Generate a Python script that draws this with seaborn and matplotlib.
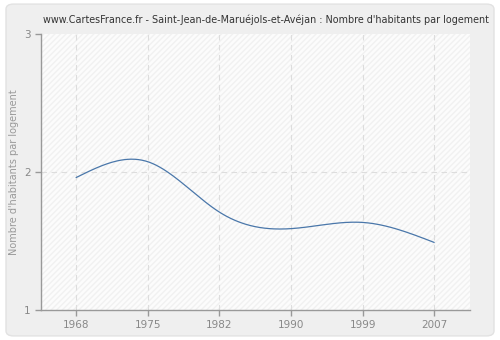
import numpy as np
import pandas as pd
import matplotlib
matplotlib.use("Agg")
import matplotlib.pyplot as plt
from matplotlib.patches import FancyBboxPatch, Rectangle
import seaborn as sns

years = ["1968", "1975", "1982", "1990", "1999", "2007"]
values = [1.96, 2.075, 1.71, 1.59, 1.635, 1.49]
title = "www.CartesFrance.fr - Saint-Jean-de-Maruéjols-et-Avéjan : Nombre d'habitants par logement"
ylabel = "Nombre d'habitants par logement"


def natural_spline(x, y, xs):
    x = np.asarray(x, float); y = np.asarray(y, float)
    n = len(x)
    h = np.diff(x)
    A = np.zeros((n, n)); r = np.zeros(n)
    A[0, 0] = A[-1, -1] = 1
    for i in range(1, n - 1):
        A[i, i - 1] = h[i - 1]; A[i, i] = 2 * (h[i - 1] + h[i]); A[i, i + 1] = h[i]
        r[i] = 3 * ((y[i + 1] - y[i]) / h[i] - (y[i] - y[i - 1]) / h[i - 1])
    c = np.linalg.solve(A, r)
    b = np.zeros(n - 1); d = np.zeros(n - 1)
    for i in range(n - 1):
        b[i] = (y[i + 1] - y[i]) / h[i] - h[i] * (2 * c[i] + c[i + 1]) / 3
        d[i] = (c[i + 1] - c[i]) / (3 * h[i])
    idx = np.clip(np.searchsorted(x, xs) - 1, 0, n - 2)
    dx = xs - x[idx]
    return y[idx] + b[idx] * dx + c[idx] * dx ** 2 + d[idx] * dx ** 3


pos = np.arange(len(years))
xs = np.linspace(0, len(years) - 1, 300)
ys = natural_spline(pos, values, xs)
df = pd.DataFrame({"x": xs, "y": ys})

sns.set_style("white")
plt.rcParams['font.family'] = ['DejaVu Sans']

fig = plt.figure(figsize=(5, 3.4), dpi=100)
fig.patch.set_facecolor("white")
bg = FancyBboxPatch((0.012, 0.012), 0.976, 0.976, boxstyle="round,pad=0,rounding_size=0.015",
                    transform=fig.transFigure, facecolor="#efefef", edgecolor="#e2e2e2",
                    linewidth=1, zorder=-10)
fig.patches.append(bg)

ax = fig.add_axes([0.082, 0.088, 0.858, 0.812])
ax.set_facecolor("#fcfcfc")
ax.add_patch(Rectangle((0, 0), 1, 1, transform=ax.transAxes, facecolor="none",
                       edgecolor="#f1f1f1", hatch="//////", linewidth=0, zorder=0))

sns.lineplot(data=df, x="x", y="y", ax=ax, color="#4a77aa", linewidth=0.9, zorder=3)

ax.set_xlim(-0.49, 5.5)
ax.set_ylim(1, 3)
ax.set_xticks(pos)
ax.set_xticklabels(years)
ax.set_yticks([1, 2, 3])
ax.set_yticklabels(["1", "2", "3"])
for x in pos:
    ax.axvline(x, color="#dddddd", linestyle=(0, (5, 4)), linewidth=0.8, zorder=1)
ax.axhline(2, color="#dddddd", linestyle=(0, (5, 4)), linewidth=0.8, zorder=1)

for s in ["top", "right"]:
    ax.spines[s].set_visible(False)
for s in ["left", "bottom"]:
    ax.spines[s].set_color("#999999")
    ax.spines[s].set_linewidth(1)
ax.tick_params(axis="both", colors="#999999", labelcolor="#888888", labelsize=7.5,
               length=4, width=1, direction="out", bottom=True, left=True)
ax.set_xlabel("")
ax.set_ylabel(ylabel, color="#999999", fontsize=7.0)
ax.yaxis.set_label_coords(-0.052, 0.5)
ax.set_title(title, fontsize=6.95, color="#333333", pad=8, x=0.524)

fig.savefig("out.png", dpi=100, facecolor=fig.get_facecolor())
